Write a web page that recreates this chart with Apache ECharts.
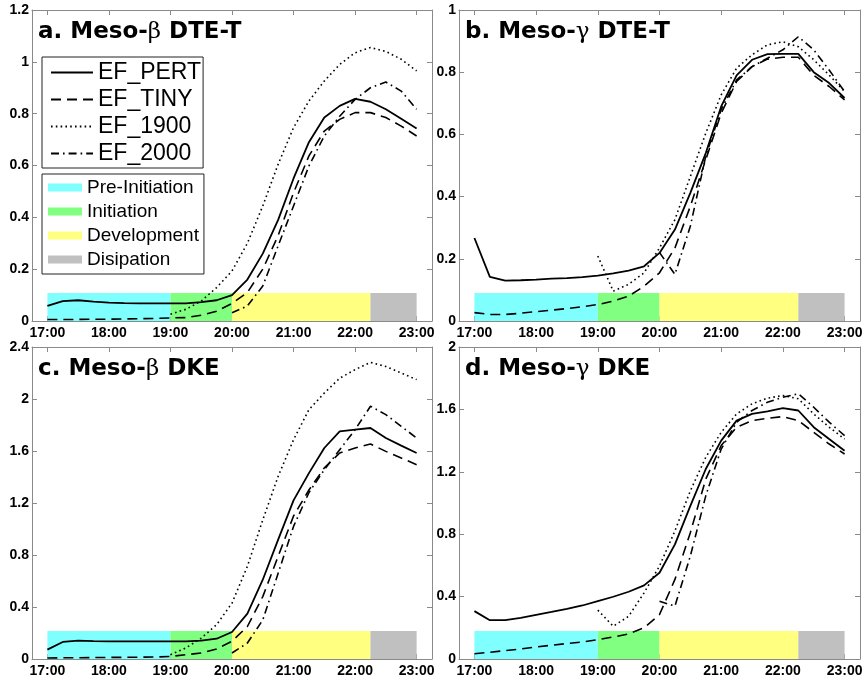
<!DOCTYPE html>
<html>
<head>
<meta charset="utf-8">
<script src="https://cdn.jsdelivr.net/npm/echarts@6/dist/echarts.min.js"></script>
<style>
html, body { margin: 0; padding: 0; background: #fff; }
#chart { width: 862px; height: 681px; }
</style>
</head>
<body>
<div id="chart"></div>
<script>
// Time axis (hours, 15-minute output interval)
const times = [17, 17.25, 17.5, 17.75, 18, 18.25, 18.5, 18.75, 19, 19.25, 19.5, 19.75,
               20, 20.25, 20.5, 20.75, 21, 21.25, 21.5, 21.75, 22, 22.25, 22.5, 22.75, 23];
const hourTicks = [17, 18, 19, 20, 21, 22, 23];

// Experiments
const runNames = ['EF_PERT', 'EF_TINY', 'EF_1900', 'EF_2000'];

// a. Meso-beta DTE-T
const pertA = [0.058, 0.077, 0.080, 0.075, 0.071, 0.069, 0.068, 0.068, 0.068, 0.068, 0.073, 0.080,
               0.100, 0.160, 0.260, 0.390, 0.550, 0.690, 0.785, 0.830, 0.857, 0.846, 0.817, 0.780, 0.743];
const tinyA = [0.006, 0.006, 0.006, 0.007, 0.007, 0.008, 0.009, 0.010, 0.012, 0.013, 0.022, 0.038,
               0.068, 0.110, 0.200, 0.330, 0.495, 0.637, 0.733, 0.778, 0.804, 0.804, 0.785, 0.752, 0.714];
const e1900A = [null, null, null, null, null, null, null, null, 0.026, 0.045, 0.077, 0.129,
                0.193, 0.300, 0.444, 0.605, 0.746, 0.849, 0.926, 0.990, 1.035, 1.055, 1.040, 1.010, 0.965];
const e2000A = [null, null, null, null, null, null, null, null, null, null, null, null,
                0.032, 0.058, 0.135, 0.290, 0.444, 0.598, 0.714, 0.790, 0.855, 0.900, 0.922, 0.887, 0.817];

// b. Meso-gamma DTE-T
const pertB = [0.267, 0.142, 0.130, 0.131, 0.133, 0.136, 0.138, 0.141, 0.146, 0.153, 0.162, 0.176,
               0.219, 0.294, 0.412, 0.540, 0.690, 0.790, 0.840, 0.858, 0.859, 0.859, 0.800, 0.765, 0.717];
const tinyB = [0.027, 0.021, 0.021, 0.025, 0.030, 0.035, 0.040, 0.046, 0.053, 0.064, 0.080, 0.112,
               0.155, 0.235, 0.369, 0.519, 0.668, 0.770, 0.818, 0.842, 0.848, 0.848, 0.790, 0.754, 0.711];
const e1900B = [null, null, null, null, null, null, null, null, 0.209, 0.096, 0.118, 0.155,
                0.235, 0.326, 0.465, 0.604, 0.727, 0.813, 0.856, 0.888, 0.898, 0.882, 0.840, 0.791, 0.738];
const e2000B = [null, null, null, null, null, null, null, null, null, null, null, null,
                0.220, 0.150, 0.305, 0.530, 0.680, 0.775, 0.818, 0.845, 0.872, 0.914, 0.872, 0.807, 0.738];

// c. Meso-beta DKE
const pertC = [0.072, 0.131, 0.141, 0.138, 0.136, 0.136, 0.136, 0.136, 0.136, 0.136, 0.141, 0.156,
               0.208, 0.349, 0.610, 0.918, 1.220, 1.430, 1.623, 1.751, 1.764, 1.777, 1.700, 1.641, 1.585];
const tinyC = [0.008, 0.009, 0.010, 0.011, 0.012, 0.013, 0.014, 0.015, 0.020, 0.033, 0.046, 0.077,
               0.136, 0.250, 0.480, 0.790, 1.100, 1.300, 1.470, 1.585, 1.623, 1.654, 1.597, 1.546, 1.495];
const e1900C = [null, null, null, null, null, null, null, null, 0.033, 0.085, 0.160, 0.264,
                0.430, 0.713, 1.070, 1.405, 1.687, 1.918, 2.046, 2.160, 2.226, 2.282, 2.250, 2.200, 2.149];
const e2000C = [null, null, null, null, null, null, null, null, null, null, null, null,
                0.046, 0.123, 0.300, 0.660, 1.020, 1.280, 1.456, 1.610, 1.764, 1.944, 1.880, 1.790, 1.700];

// d. Meso-gamma DKE
const pertD = [0.307, 0.249, 0.249, 0.264, 0.283, 0.302, 0.322, 0.343, 0.371, 0.399, 0.431, 0.472,
               0.553, 0.735, 0.982, 1.218, 1.400, 1.528, 1.571, 1.588, 1.608, 1.593, 1.486, 1.410, 1.335];
const tinyD = [0.034, 0.043, 0.054, 0.064, 0.077, 0.088, 0.099, 0.109, 0.124, 0.141, 0.161, 0.200,
               0.285, 0.510, 0.810, 1.153, 1.368, 1.486, 1.528, 1.543, 1.554, 1.528, 1.453, 1.378, 1.314];
const e1900D = [null, null, null, null, null, null, null, null, 0.313, 0.210, 0.274, 0.424,
                0.596, 0.821, 1.078, 1.293, 1.453, 1.571, 1.636, 1.672, 1.689, 1.668, 1.571, 1.486, 1.410];
const e2000D = [null, null, null, null, null, null, null, null, null, null, null, null,
                0.370, 0.339, 0.660, 1.046, 1.346, 1.518, 1.593, 1.646, 1.678, 1.700, 1.614, 1.518, 1.432];

// Panel titles and value axes
const panelTitles = ['a. Meso-{g|β} DTE-T', 'b. Meso-{g|γ} DTE-T', 'c. Meso-{g|β} DKE', 'd. Meso-{g|γ} DKE'];
const yMax = [1.2, 1, 2.4, 2];
const yStep = [0.2, 0.2, 0.4, 0.4];

// Storm life-cycle phases (hours) and the height of the phase strip per panel
const phaseNames = ['Pre-Initiation', 'Initiation', 'Development', 'Disipation'];
const phaseStart = [17, 19, 20, 22.25];
const phaseEnd = [19, 20, 22.25, 23];
const phaseColors = ['#80ffff', '#80ff80', '#ffff80', '#c0c0c0'];
const phaseTop = [0.108, 0.09, 0.216, 0.18];

const panelData = [
  [pertA, tinyA, e1900A, e2000A],
  [pertB, tinyB, e1900B, e2000B],
  [pertC, tinyC, e1900C, e2000C],
  [pertD, tinyD, e1900D, e2000D]
];

const lineStyles = [
  { type: 'solid', width: 1.8 },
  { type: [10, 6], width: 1.6 },
  { type: [1.6, 3.2], width: 1.6 },
  { type: [8, 4, 1.6, 4], width: 1.6 }
];

const grids = [
  { left: 32, top: 10, width: 400, height: 311 },
  { left: 459, top: 10, width: 401, height: 311 },
  { left: 32, top: 347, width: 400, height: 312 },
  { left: 459, top: 347, width: 401, height: 312 }
];

const axisGray = '#8a8a8a';
const labelFont = { color: '#000', fontFamily: 'Liberation Sans', fontWeight: 'bold', fontSize: 14 };

const xAxes = [];
const yAxes = [];
[0, 1, 2, 3].forEach(p => {
  xAxes.push({
    type: 'value', gridIndex: p, min: 16.75, max: 23.25, position: 'bottom',
    splitLine: { show: false },
    axisLine: { show: true, onZero: false, lineStyle: { color: axisGray, width: 1 } },
    axisTick: { show: true, inside: true, length: 5, customValues: hourTicks, lineStyle: { color: axisGray } },
    axisLabel: { show: true, customValues: hourTicks, margin: 5, formatter: v => v + ':00', ...labelFont }
  });
  yAxes.push({
    type: 'value', gridIndex: p, min: 0, max: yMax[p], interval: yStep[p], position: 'left',
    splitLine: { show: false },
    axisLine: { show: true, onZero: false, lineStyle: { color: axisGray, width: 1 } },
    axisTick: { show: true, inside: true, length: 5, lineStyle: { color: axisGray } },
    axisLabel: { show: true, margin: 3, ...labelFont }
  });
});
// Mirror axes on top and right to close each box with inward ticks
[0, 1, 2, 3].forEach(p => {
  xAxes.push({
    type: 'value', gridIndex: p, min: 16.75, max: 23.25, position: 'top',
    splitLine: { show: false },
    axisLine: { show: true, onZero: false, lineStyle: { color: axisGray, width: 1 } },
    axisTick: { show: true, inside: true, length: 5, customValues: hourTicks, lineStyle: { color: axisGray } },
    axisLabel: { show: false }
  });
  yAxes.push({
    type: 'value', gridIndex: p, min: 0, max: yMax[p], interval: yStep[p], position: 'right',
    splitLine: { show: false },
    axisLine: { show: true, onZero: false, lineStyle: { color: axisGray, width: 1 } },
    axisTick: { show: true, inside: true, length: 5, lineStyle: { color: axisGray } },
    axisLabel: { show: false }
  });
});

function renderPhase(params, api) {
  const p0 = api.coord([api.value(0), 0]);
  const p1 = api.coord([api.value(1), api.value(2)]);
  return {
    type: 'rect',
    shape: { x: p0[0], y: p1[1], width: p1[0] - p0[0], height: p0[1] - p1[1] },
    style: { fill: api.visual('color') }
  };
}

const series = [];
[0, 1, 2, 3].forEach(p => {
  phaseNames.forEach((name, k) => {
    series.push({
      type: 'custom', name: name, xAxisIndex: p, yAxisIndex: p, z: 1, silent: true,
      itemStyle: { color: phaseColors[k] },
      encode: { x: [0, 1], y: 2 },
      renderItem: renderPhase,
      data: [[phaseStart[k], phaseEnd[k], phaseTop[p]]]
    });
  });
  runNames.forEach((name, r) => {
    const vals = panelData[p][r];
    series.push({
      type: 'line', name: name, xAxisIndex: p, yAxisIndex: p, z: 3, silent: true,
      symbol: 'none', showSymbol: false,
      itemStyle: { color: '#000' },
      lineStyle: { color: '#000', width: lineStyles[r].width, type: lineStyles[r].type },
      data: times.map((t, i) => [t, vals[i]]).filter(d => d[1] !== null)
    });
  });
});

const titles = panelTitles.map((text, p) => ({
  text: text,
  left: grids[p].left + 6,
  top: grids[p].top + 11,
  padding: 0,
  textStyle: {
    fontFamily: 'DejaVu Sans', fontWeight: 'bold', fontSize: 23, color: '#000',
    rich: { g: { fontFamily: 'DejaVu Serif', fontWeight: 'normal', fontSize: 23, color: '#000' } }
  }
}));

const option = {
  backgroundColor: '#fff',
  animation: false,
  title: titles,
  grid: grids.map(g => Object.assign({ outerBoundsMode: 'none', containLabel: false }, g)),
  xAxis: xAxes,
  yAxis: yAxes,
  legend: [
    {
      data: runNames, orient: 'vertical', left: 42, top: 57,
      padding: [4, 2, 3, 8], itemGap: 4, itemWidth: 42, itemHeight: 14,
      borderColor: '#222', borderWidth: 1, backgroundColor: '#fff',
      selectedMode: false,
      // only the line sample is shown, no marker on it
      itemStyle: { opacity: 0 },
      textStyle: { fontFamily: 'Liberation Sans', fontSize: 23, lineHeight: 23, color: '#000' }
    },
    {
      data: phaseNames.map(n => ({ name: n, icon: 'rect' })), orient: 'vertical', left: 42, top: 174,
      padding: [4, 5, 5, 6], itemGap: 5, itemWidth: 34, itemHeight: 8,
      borderColor: '#222', borderWidth: 1, backgroundColor: '#fff',
      selectedMode: false,
      textStyle: { fontFamily: 'Liberation Sans', fontSize: 19, lineHeight: 19, color: '#000' }
    }
  ],
  series: series
};

const chart = echarts.init(document.getElementById('chart'), null, { renderer: 'canvas' });
chart.setOption(option);
</script>
</body>
</html>
